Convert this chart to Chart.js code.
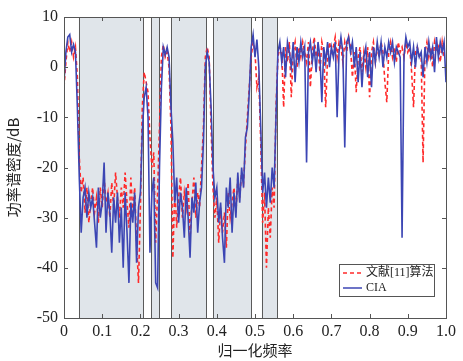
<!DOCTYPE html>
<html>
<head>
<meta charset="utf-8">
<script src="https://cdn.jsdelivr.net/npm/chart.js@4.4.1/dist/chart.umd.min.js"></script>
<style>
  html, body { margin: 0; padding: 0; background: #fff; }
  #psdChart { display: block; }
</style>
</head>
<body>
<canvas id="psdChart" width="463" height="361"></canvas>
<script>
// sample spacing along normalized frequency (0 .. 1)
const freqStep = 0.005;

// CIA curve, dB, one value per sample
const ciaValues = [
  -3, 3, 6, 6.5, 3, 4.5, 3, -8, -22, -33,
  -26, -24, -30, -25, -28, -26, -31, -36, -24, -30,
  -27, -19, -33, -25, -29, -37, -26, -31, -25, -35,
  -28, -40, -25, -33, -43, -27, -31, -25, -39, -28,
  -25, -13, -6, -4, -10, -37, -25, -22, -43, -44,
  -20, -4, 4, 2.5, 4, 2, -8, -15, -27, -22,
  -31, -25, -28, -34, -24, -30, -38, -26, -29, -23,
  -33, -27, -24, -15, 0, 3, 1, -8, -20, -26,
  -24, -31, -27, -34, -39, -24, -28, -22, -33, -25,
  -30, -21, -27, -20, -24, -14, -12, -5, 4, 6.5,
  2, 5.5, 0, -12, -25, -21, -28, -22, -27, -20,
  -24, -10, 3, 5, 1, 4, -2, 5, 3, 0,
  5, -3, 4, 1, 5, 2, 4, -19, 3, 5,
  1, 4, -1, 5, 2, -7, 4, 1, 5, 0,
  4, 2, 5, -10, 3, 6, 3, -16, 5, 6,
  3, 5, 0, 4, -3, 3, -4, 2, 4, -2,
  3, -4, 4, 1, 5, 2, 5, 0, 4, 2,
  5, 3, 5, 1, 4, 3, 2, -34, 2, 6,
  4, 5, 1, 4, 0, 4, 2, 3, -2, 4,
  1, 5, 2, 4, -1, 6, 2, 5, 3, 5,
  -3
];

// reference algorithm [11], dB
const refValues = [
  -4, 1, 5, 3, 5, 2, 4, -2, -18, -25,
  -22, -29, -24, -31, -27, -24, -29, -26, -31, -24,
  -28, -22, -27, -25, -30, -23, -28, -21, -26, -30,
  -24, -28, -21, -27, -32, -22, -29, -24, -35, -43,
  -28, -8, -1, -3, -5, -14, -20, -17, -35, -25,
  -12, 2, 4.5, 2, 3, 0, -12, -38, -24, -32,
  -26, -22, -30, -25, -28, -23, -34, -27, -22, -30,
  -25, -28, -20, -12, 2, 4, 2, -12, -24, -30,
  -26, -35, -28, -33, -29, -36, -25, -30, -27, -24,
  -29, -22, -26, -21, -23, -16, -10, -4, 2, 5,
  3, -4, -2, -15, -31, -25, -40, -28, -34, -24,
  -28, -8, 2, 4, 3, -8, 4, 1, 5, -6,
  3, 5, 0, 4, 2, 5, 3, 1, 5, -4,
  3, 6, 2, 4, -1, 5, 3, -8, 2, 5,
  3, 4, 6, 2, 5, 4, 1, 5, 3, 6,
  4, -2, 3, -5, 2, 4, -1, 3, 0, 4,
  -6, 3, 5, 1, 4, 2, 5, 3, -3, -7,
  3, 5, 2, 4, 1, 5, 3, 4, 2, 5,
  3, 4, -1, -8, 3, 4, 2, 2, -19, 3,
  5, 2, 4, 0, 5, 3, 4, 1, 5, 2,
  2
];

// shaded stop bands [start, end] in normalized frequency
const bandStarts = [0.039, 0.228, 0.280, 0.390, 0.518];
const bandEnds   = [0.207, 0.249, 0.372, 0.490, 0.558];

const xTicks = [0, 0.1, 0.2, 0.3, 0.4, 0.5, 0.6, 0.7, 0.8, 0.9, 1.0];
const yTicks = [10, 0, -10, -20, -30, -40, -50];

const seriesNames = ['文献[11]算法', 'CIA'];

const toPoints = vals => vals.map((v, i) => ({ x: +(i * freqStep).toFixed(4), y: v }));

const RED = '#ff2a2a';
const BLUE = '#3c46b4';
const AXIS = '#555';
const TEXT = '#222';
const serif = '"Liberation Serif", "Noto Sans CJK SC", serif';

// gray bands behind the curves
const bandPlugin = {
  id: 'bands',
  beforeDatasetsDraw(chart) {
    const { ctx, chartArea, scales } = chart;
    ctx.save();
    for (let i = 0; i < bandStarts.length; i++) {
      const x0 = scales.x.getPixelForValue(bandStarts[i]);
      const x1 = scales.x.getPixelForValue(bandEnds[i]);
      ctx.fillStyle = '#e0e5ea';
      ctx.fillRect(x0, chartArea.top, x1 - x0, chartArea.bottom - chartArea.top);
      ctx.strokeStyle = '#5a5a5a';
      ctx.lineWidth = 1;
      ctx.beginPath();
      ctx.moveTo(Math.round(x0) + 0.5, chartArea.top);
      ctx.lineTo(Math.round(x0) + 0.5, chartArea.bottom);
      ctx.moveTo(Math.round(x1) + 0.5, chartArea.top);
      ctx.lineTo(Math.round(x1) + 0.5, chartArea.bottom);
      ctx.stroke();
    }
    ctx.restore();
  }
};

// box, inward ticks, legend
const framePlugin = {
  id: 'frame',
  afterDraw(chart) {
    const { ctx, chartArea: a, scales } = chart;
    ctx.save();
    ctx.strokeStyle = AXIS;
    ctx.lineWidth = 1;
    ctx.strokeRect(Math.round(a.left) + 0.5, Math.round(a.top) + 0.5,
      Math.round(a.right - a.left), Math.round(a.bottom - a.top));
    ctx.beginPath();
    xTicks.forEach(v => {
      const px = Math.round(scales.x.getPixelForValue(v)) + 0.5;
      ctx.moveTo(px, a.bottom); ctx.lineTo(px, a.bottom - 4);
      ctx.moveTo(px, a.top); ctx.lineTo(px, a.top + 4);
    });
    yTicks.forEach(v => {
      const py = Math.round(scales.y.getPixelForValue(v)) + 0.5;
      ctx.moveTo(a.left, py); ctx.lineTo(a.left + 4, py);
      ctx.moveTo(a.right, py); ctx.lineTo(a.right - 4, py);
    });
    ctx.stroke();

    // legend
    const lx = 339, ly = 264, lw = 95, lh = 32;
    ctx.fillStyle = '#fff';
    ctx.fillRect(lx, ly, lw, lh);
    ctx.strokeStyle = AXIS;
    ctx.strokeRect(lx + 0.5, ly + 0.5, lw, lh);
    const rows = [
      { name: seriesNames[0], color: RED, dash: [4, 3], y: ly + 9 },
      { name: seriesNames[1], color: BLUE, dash: [], y: ly + 24 }
    ];
    ctx.font = '12px ' + serif;
    ctx.textBaseline = 'middle';
    rows.forEach(r => {
      ctx.strokeStyle = r.color;
      ctx.lineWidth = 1.5;
      ctx.setLineDash(r.dash);
      ctx.beginPath();
      ctx.moveTo(lx + 4, r.y); ctx.lineTo(lx + 23, r.y);
      ctx.stroke();
      ctx.setLineDash([]);
      ctx.fillStyle = TEXT;
      ctx.fillText(r.name, lx + 27, r.y);
    });
    ctx.restore();
  }
};

const ctx = document.getElementById('psdChart').getContext('2d');
const psdChart = new Chart(ctx, {
  type: 'line',
  data: {
    datasets: [
      {
        label: seriesNames[1],
        data: toPoints(ciaValues),
        borderColor: BLUE,
        borderWidth: 1.6,
        pointRadius: 0,
        tension: 0,
        order: 1
      },
      {
        label: seriesNames[0],
        data: toPoints(refValues),
        borderColor: RED,
        borderWidth: 1.6,
        borderDash: [4, 3],
        pointRadius: 0,
        tension: 0,
        order: 2
      }
    ]
  },
  options: {
    responsive: false,
    animation: false,
    maintainAspectRatio: false,
    layout: { padding: { top: 17, right: 17, left: 0, bottom: 0 } },
    plugins: {
      legend: { display: false },
      tooltip: { enabled: false }
    },
    scales: {
      x: {
        type: 'linear',
        min: 0,
        max: 1,
        afterBuildTicks: s => { s.ticks = xTicks.map(v => ({ value: v })); },
        afterFit: s => { s.height = 43; },
        grid: { display: false, drawTicks: false },
        border: { display: false },
        ticks: {
          padding: 4,
          color: TEXT,
          font: { family: serif, size: 16 },
          callback: v => (v === 0 ? '0' : v.toFixed(1))
        },
        title: {
          display: true,
          text: '归一化频率',
          color: TEXT,
          font: { family: '"Noto Sans CJK SC", serif', size: 15 },
          padding: { top: 0, bottom: 2 }
        }
      },
      y: {
        min: -50,
        max: 10,
        afterBuildTicks: s => { s.ticks = yTicks.map(v => ({ value: v })); },
        afterFit: s => { s.width = 64; },
        grid: { display: false, drawTicks: false },
        border: { display: false },
        ticks: {
          padding: 6,
          color: TEXT,
          font: { family: serif, size: 16 }
        },
        title: {
          display: true,
          text: '功率谱密度/dB',
          color: TEXT,
          font: { family: '"Noto Sans CJK SC", serif', size: 15 },
          padding: { top: 4, bottom: 0 }
        }
      }
    }
  },
  plugins: [bandPlugin, framePlugin]
});
</script>
</body>
</html>
